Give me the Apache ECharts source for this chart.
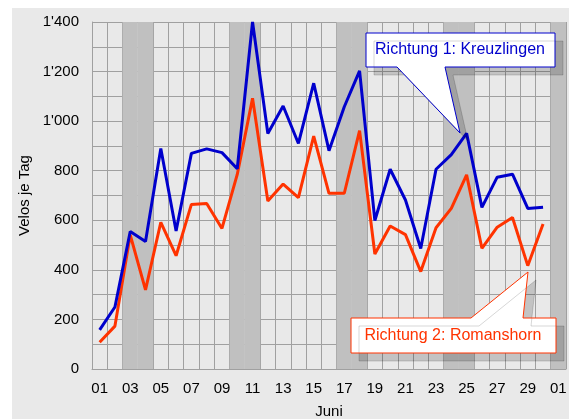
<!DOCTYPE html>
<html>
<head>
<meta charset="utf-8">
<script src="https://cdn.jsdelivr.net/npm/echarts@6/dist/echarts.min.js"></script>
<style>
  html, body { margin: 0; padding: 0; background: #fff; }
  #wrap { position: relative; width: 569px; height: 419px; }
  #bg { position: absolute; left: 12px; top: 8px; right: 0; bottom: 0; background: #e9e9e9; }
  #chart { position: absolute; left: 0; top: 0; width: 569px; height: 419px; }
</style>
</head>
<body>
<div id="wrap">
  <div id="bg"></div>
  <div id="chart"></div>
</div>
<script>
// days of June plus 1 July
const days = ["01","02","03","04","05","06","07","08","09","10","11","12","13","14","15",
  "16","17","18","19","20","21","22","23","24","25","26","27","28","29","30","01"];
// weekend flags (Sat/Sun)
const weekend = [0,0,1,1,0,0,0,0,0,1,1,0,0,0,0,0,1,1,0,0,0,0,0,1,1,0,0,0,0,0,1];
const kreuzlingen = [158, 250, 555, 514, 890, 557, 870, 888, 873, 808, 1400, 950, 1061, 910, 1153,
  881, 1058, 1203, 599, 806, 682, 486, 806, 865, 951, 652, 774, 786, 648, 653, null];
const romanshorn = [108, 173, 541, 319, 592, 457, 664, 668, 567, 785, 1092, 678, 746, 691, 940,
  709, 709, 962, 464, 577, 542, 393, 570, 648, 783, 487, 572, 611, 417, 585, null];
const yMax = 1400;

const chart = echarts.init(document.getElementById("chart"));
const font = "Liberation Sans, Arial, sans-serif";

const option = {
  animation: false,
  backgroundColor: "transparent",
  grid: { left: 92, right: 3, top: 22, bottom: 50, outerBoundsMode: "none", containLabel: false },
  xAxis: {
    type: "category",
    data: days,
    boundaryGap: true,
    name: "Juni",
    nameLocation: "middle",
    nameGap: 35,
    nameTextStyle: { color: "#000", fontSize: 15, fontFamily: font },
    axisTick: { show: false },
    axisLine: { show: true, lineStyle: { color: "#a0a0a0", width: 1 } },
    axisLabel: { interval: 1, color: "#000", fontSize: 15, fontFamily: font, margin: 12 },
    splitLine: { show: true, interval: 0, lineStyle: { color: "#a0a0a0", width: 1 } },
  },
  yAxis: {
    type: "value",
    min: 0,
    max: yMax,
    interval: 100,
    name: "Velos je Tag",
    nameLocation: "middle",
    nameGap: 55,
    nameTextStyle: { color: "#000", fontSize: 15, fontFamily: font },
    axisTick: { show: false },
    axisLine: { show: true, lineStyle: { color: "#a0a0a0", width: 1 } },
    axisLabel: {
      color: "#000", fontSize: 15, fontFamily: font, margin: 13,
      formatter: (v) => v % 200 !== 0 ? "" : (v >= 1000 ? Math.floor(v / 1000) + "'" + String(v % 1000).padStart(3, "0") : String(v)),
    },
    splitLine: { show: true, lineStyle: { color: "#a0a0a0", width: 1 } },
  },
  series: [
    {
      name: "Wochenende",
      type: "bar",
      silent: true,
      barWidth: "100%",
      itemStyle: { color: "#c0c0c0" },
      data: weekend.map((w) => (w ? yMax : "-")),
      z: 1,
    },
    {
      name: "Richtung 1: Kreuzlingen",
      type: "line",
      data: kreuzlingen,
      symbol: "none",
      clip: true,
      lineStyle: { color: "#0000cc", width: 3 },
      z: 3,
    },
    {
      name: "Richtung 2: Romanshorn",
      type: "line",
      data: romanshorn,
      symbol: "none",
      clip: true,
      lineStyle: { color: "#ff3300", width: 3 },
      z: 2,
    },
  ],
  graphic: [
    {
      type: "polygon",
      shape: { points: [[366,33],[555,33],[555,67],[445,67],[460,133],[397,67],[366,67]] },
      style: { fill: "#fff", stroke: "#0000cc", lineWidth: 1,
        shadowColor: "rgba(0,0,0,0.16)", shadowOffsetX: 8, shadowOffsetY: 8, shadowBlur: 0 },
      z: 10,
    },
    {
      type: "text",
      x: 460, y: 50,
      style: { text: "Richtung 1: Kreuzlingen", fill: "#0000cc", font: "16px " + font,
        textAlign: "center", textVerticalAlign: "middle" },
      z: 11,
    },
    {
      type: "polygon",
      shape: { points: [[351,318],[471,318],[528,272],[523,318],[556,318],[556,353],[351,353]] },
      style: { fill: "#fff", stroke: "#ff3300", lineWidth: 1,
        shadowColor: "rgba(0,0,0,0.16)", shadowOffsetX: 8, shadowOffsetY: 8, shadowBlur: 0 },
      z: 10,
    },
    {
      type: "text",
      x: 453, y: 336,
      style: { text: "Richtung 2: Romanshorn", fill: "#ff3300", font: "16px " + font,
        textAlign: "center", textVerticalAlign: "middle" },
      z: 11,
    },
  ],
};
chart.setOption(option);
</script>
</body>
</html>
